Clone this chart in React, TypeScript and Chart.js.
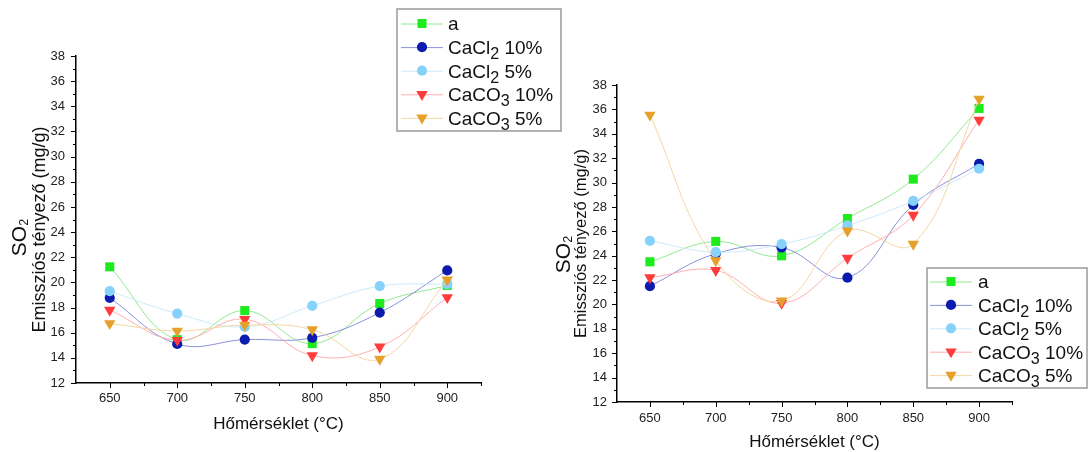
import React, { useEffect, useRef } from 'react';
import { Chart, registerables } from 'chart.js';

Chart.register(...registerables);

// ---------------- data ----------------
const TEMPERATURES = [650, 700, 750, 800, 850, 900];
const X_TICKS = [650, 700, 750, 800, 850, 900];
const Y_TICKS = [12, 14, 16, 18, 20, 22, 24, 26, 28, 30, 32, 34, 36, 38];
const X_RANGE = [625, 925];
const Y_RANGE = [12, 38];

const SERIES_LABELS = ['a', 'CaCl₂ 10%', 'CaCl₂ 5%', 'CaCO₃ 10%', 'CaCO₃ 5%'];

const LEFT_A = [21.24, 15.45, 17.76, 15.13, 18.32, 19.76];
const LEFT_CACL2_10 = [18.77, 15.1, 15.45, 15.59, 17.6, 20.95];
const LEFT_CACL2_5 = [19.3, 17.52, 16.46, 18.14, 19.7, 19.86];
const LEFT_CACO3_10 = [17.8, 15.4, 17.07, 14.18, 14.87, 18.8];
const LEFT_CACO3_5 = [16.73, 16.14, 16.6, 16.25, 13.9, 20.2];

const RIGHT_A = [23.5, 25.17, 23.99, 27.05, 30.28, 36.08];
const RIGHT_CACL2_10 = [21.5, 24.16, 24.67, 22.2, 28.17, 31.54];
const RIGHT_CACL2_5 = [25.22, 24.29, 24.95, 26.48, 28.5, 31.13];
const RIGHT_CACO3_10 = [22.2, 22.8, 20.1, 23.8, 27.33, 35.13];
const RIGHT_CACO3_5 = [35.54, 23.6, 20.3, 26.04, 24.95, 36.85];

const X_TITLE = 'Hőmérséklet (°C)';
const Y_TITLE_MAIN = 'SO₂';
const Y_TITLE_SUB = 'Emissziós tényező (mg/g)';

// ---------------- styles ----------------
const FONT = "'Liberation Sans', Arial, sans-serif";
const MARKER_COLORS = ['#1DEB1D', '#0A1BAE', '#86D2FA', '#FF3C3C', '#E5A12B'];
const LINE_COLORS = ['#8FEA8F', '#8A91DA', '#CDEAFB', '#FFAEAE', '#F5D6A4'];
const POINT_STYLES = ['rect', 'circle', 'circle', 'triangle', 'triangle'];
const POINT_ROTATIONS = [0, 0, 0, 180, 180];
const POINT_RADII = [6.4, 5.1, 5.1, 6.6, 6.6];

const W = 1088;
const H = 452;
const Y_AXIS_W = 40;
const X_AXIS_H = 30;

const LEFT_LAYOUT = {
  area: { left: 76, right: 481, top: 56, bottom: 383 },
  yLabelPad: 11,
  xLabelPad: 8,
  soX: 18,
  emX: 39,
  emSize: 18,
  emDy: 10,
  soDy: 18,
  xTitleY: 424,
  legend: { left: 397, top: 9, right: 561, bottom: 131, markerX: 422, lineHalf: 21, textX: 448, firstRowY: 23.5, rowStep: 23.6 },
};

const RIGHT_LAYOUT = {
  area: { left: 617, right: 1012, top: 85, bottom: 402 },
  yLabelPad: 10,
  xLabelPad: 9,
  soX: 562,
  emX: 580,
  emSize: 16.5,
  emDy: 0,
  soDy: 11,
  xTitleY: 442,
  legend: { left: 927, top: 268, right: 1087, bottom: 388, markerX: 951, lineHalf: 21, textX: 978, firstRowY: 281.5, rowStep: 23.4 },
};

// ---------------- helpers ----------------
const SUB_MAP: Record<string, string> = { '₂': '2', '₃': '3' };

function drawRich(
  ctx: CanvasRenderingContext2D,
  text: string,
  x: number,
  baseline: number,
  size: number,
  subScale: number,
  subOffset: number,
  align: 'left' | 'center',
  color: string
) {
  const segs: { t: string; sub: boolean }[] = [];
  let cur = '';
  for (const ch of text) {
    if (SUB_MAP[ch]) {
      if (cur) segs.push({ t: cur, sub: false });
      segs.push({ t: SUB_MAP[ch], sub: true });
      cur = '';
    } else cur += ch;
  }
  if (cur) segs.push({ t: cur, sub: false });
  const widths = segs.map((s) => {
    ctx.font = `${s.sub ? size * subScale : size}px ${FONT}`;
    return ctx.measureText(s.t).width;
  });
  const total = widths.reduce((a, b) => a + b, 0);
  let cx = align === 'center' ? x - total / 2 : x;
  ctx.textAlign = 'left';
  ctx.textBaseline = 'alphabetic';
  ctx.fillStyle = color;
  segs.forEach((s, i) => {
    ctx.font = `${s.sub ? size * subScale : size}px ${FONT}`;
    ctx.fillText(s.t, cx, s.sub ? baseline + subOffset : baseline);
    cx += widths[i];
  });
}

function drawMarker(ctx: CanvasRenderingContext2D, style: string, x: number, y: number, r: number, rotDeg: number, color: string) {
  ctx.fillStyle = color;
  ctx.beginPath();
  if (style === 'rect') {
    const s = Math.SQRT1_2 * r;
    ctx.rect(x - s, y - s, 2 * s, 2 * s);
  } else if (style === 'circle') {
    ctx.arc(x, y, r, 0, Math.PI * 2);
  } else {
    let rad = (rotDeg * Math.PI) / 180;
    ctx.moveTo(x + Math.sin(rad) * r, y - Math.cos(rad) * r);
    rad += (2 * Math.PI) / 3;
    ctx.lineTo(x + Math.sin(rad) * r, y - Math.cos(rad) * r);
    rad += (2 * Math.PI) / 3;
    ctx.lineTo(x + Math.sin(rad) * r, y - Math.cos(rad) * r);
    ctx.closePath();
  }
  ctx.fill();
}

const decorPlugin = {
  id: 'decor',
  afterDraw(chart: any, _args: any, opts: any) {
    const ctx: CanvasRenderingContext2D = chart.ctx;
    const xs = chart.scales.x;
    const ys = chart.scales.y;
    const area = chart.chartArea;
    ctx.save();
    ctx.strokeStyle = '#000';
    ctx.lineWidth = 1;
    // x tick marks (major at labelled values, minor halfway)
    for (let v = xs.min + 25; v <= xs.max + 1e-6; v += 25) {
      const px = Math.round(xs.getPixelForValue(v)) + 0.5;
      const len = v % 50 === 0 ? 5 : 3;
      ctx.beginPath();
      ctx.moveTo(px, area.bottom);
      ctx.lineTo(px, area.bottom + len);
      ctx.stroke();
    }
    // y tick marks
    for (let v = ys.min; v <= ys.max + 1e-6; v += 1) {
      const py = Math.round(ys.getPixelForValue(v)) + 0.5;
      const len = v % 2 === 0 ? 5 : 3;
      ctx.beginPath();
      ctx.moveTo(area.left, py);
      ctx.lineTo(area.left - len, py);
      ctx.stroke();
    }
    // x title
    ctx.fillStyle = '#111';
    ctx.font = `17px ${FONT}`;
    ctx.textAlign = 'center';
    ctx.textBaseline = 'middle';
    ctx.fillText(X_TITLE, (area.left + area.right) / 2, opts.xTitleY);
    // y titles
    const cy = (area.top + area.bottom) / 2;
    ctx.save();
    ctx.translate(opts.emX, cy + opts.emDy);
    ctx.rotate(-Math.PI / 2);
    drawRich(ctx, Y_TITLE_SUB, 0, opts.emSize * 0.36, opts.emSize, 1, 0, 'center', '#111');
    ctx.restore();
    ctx.save();
    ctx.translate(opts.soX, cy + opts.soDy);
    ctx.rotate(-Math.PI / 2);
    drawRich(ctx, Y_TITLE_MAIN, 0, 21 * 0.36, 21, 0.6, 2, 'center', '#111');
    ctx.restore();

    // legend
    const lg = opts.legend;
    ctx.fillStyle = '#fff';
    ctx.fillRect(lg.left, lg.top, lg.right - lg.left, lg.bottom - lg.top);
    ctx.strokeStyle = '#9a9a9a';
    ctx.lineWidth = 1.5;
    ctx.strokeRect(lg.left, lg.top, lg.right - lg.left, lg.bottom - lg.top);
    chart.data.datasets.forEach((ds: any, i: number) => {
      const y = lg.firstRowY + i * lg.rowStep;
      ctx.strokeStyle = ds.borderColor;
      ctx.lineWidth = 1;
      ctx.beginPath();
      ctx.moveTo(lg.markerX - lg.lineHalf, y + 0.5);
      ctx.lineTo(lg.markerX + lg.lineHalf, y + 0.5);
      ctx.stroke();
      drawMarker(ctx, ds.pointStyle, lg.markerX, y, ds.pointRadius, ds.pointRotation, ds.pointBackgroundColor);
      drawRich(ctx, ds.label, lg.textX, y + 19 * 0.36, 19, 0.85, 5, 'left', '#111');
    });
    ctx.restore();
  },
};

function buildConfig(series: number[][], layout: any): any {
  const a = layout.area;
  return {
    type: 'line',
    data: {
      datasets: series.map((vals, i) => ({
        label: SERIES_LABELS[i],
        data: TEMPERATURES.map((t, j) => ({ x: t, y: vals[j] })),
        borderColor: LINE_COLORS[i],
        borderWidth: 1,
        pointStyle: POINT_STYLES[i],
        pointRotation: POINT_ROTATIONS[i],
        pointRadius: POINT_RADII[i],
        pointBackgroundColor: MARKER_COLORS[i],
        pointBorderColor: MARKER_COLORS[i],
        pointBorderWidth: 0,
        tension: 0.4,
        fill: false,
        order: series.length - i,
      })),
    },
    options: {
      responsive: false,
      animation: false,
      events: [],
      layout: {
        padding: {
          left: a.left - Y_AXIS_W,
          right: W - a.right,
          top: a.top,
          bottom: H - a.bottom - X_AXIS_H,
        },
      },
      plugins: {
        legend: { display: false },
        tooltip: { enabled: false },
        decor: layout,
      },
      scales: {
        x: {
          type: 'linear',
          min: X_RANGE[0],
          max: X_RANGE[1],
          afterBuildTicks: (s: any) => {
            s.ticks = X_TICKS.map((v) => ({ value: v }));
          },
          afterFit: (s: any) => {
            s.height = X_AXIS_H;
          },
          grid: { display: false, drawTicks: false },
          border: { display: true, color: '#000', width: 1.5 },
          ticks: { padding: layout.xLabelPad, color: '#222', font: { family: FONT, size: 13 }, maxRotation: 0, autoSkip: false },
        },
        y: {
          type: 'linear',
          min: Y_RANGE[0],
          max: Y_RANGE[1],
          afterBuildTicks: (s: any) => {
            s.ticks = Y_TICKS.map((v) => ({ value: v }));
          },
          afterFit: (s: any) => {
            s.width = Y_AXIS_W;
          },
          grid: { display: false, drawTicks: false },
          border: { display: true, color: '#000', width: 1.5 },
          ticks: { padding: layout.yLabelPad, color: '#222', font: { family: FONT, size: 13 }, autoSkip: false },
        },
      },
    },
    plugins: [decorPlugin],
  };
}

export default function App() {
  const leftRef = useRef<HTMLCanvasElement>(null);
  const rightRef = useRef<HTMLCanvasElement>(null);

  useEffect(() => {
    const left = new Chart(
      leftRef.current as HTMLCanvasElement,
      buildConfig([LEFT_A, LEFT_CACL2_10, LEFT_CACL2_5, LEFT_CACO3_10, LEFT_CACO3_5], LEFT_LAYOUT)
    );
    const right = new Chart(
      rightRef.current as HTMLCanvasElement,
      buildConfig([RIGHT_A, RIGHT_CACL2_10, RIGHT_CACL2_5, RIGHT_CACO3_10, RIGHT_CACO3_5], RIGHT_LAYOUT)
    );
    return () => {
      left.destroy();
      right.destroy();
    };
  }, []);

  return (
    <div style={{ position: 'fixed', left: 0, top: 0, width: W, height: H, background: '#fff', overflow: 'hidden' }}>
      <canvas ref={leftRef} width={W} height={H} style={{ position: 'absolute', left: 0, top: 0 }} />
      <canvas ref={rightRef} width={W} height={H} style={{ position: 'absolute', left: 0, top: 0 }} />
    </div>
  );
}
